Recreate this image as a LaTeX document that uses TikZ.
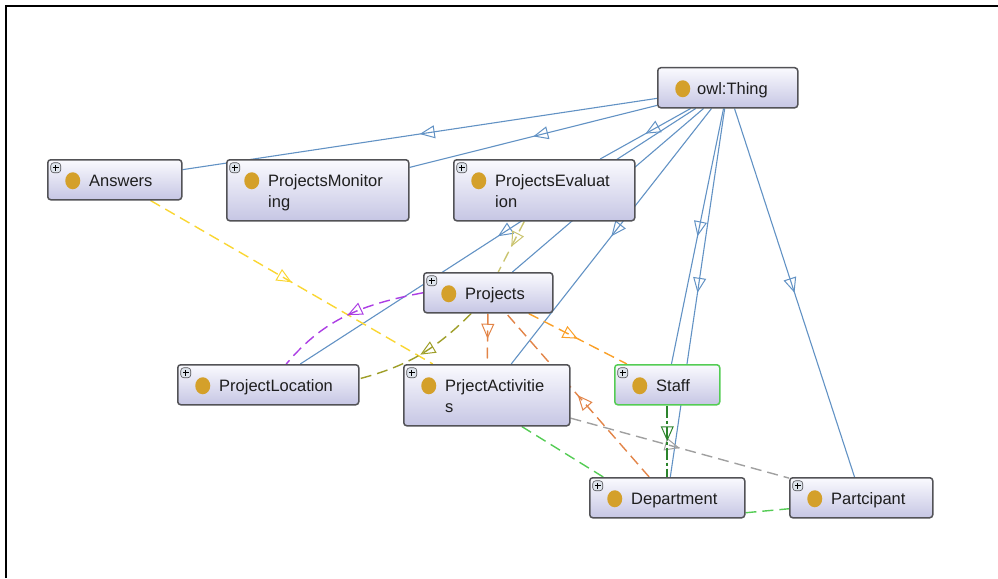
\documentclass[tikz,border=0pt]{standalone}
\usepackage{fontspec}
\setmainfont{Liberation Sans}
\usepackage{tikz}
\usetikzlibrary{arrows.meta, positioning, decorations.markings, backgrounds}
\definecolor{isablue}{RGB}{98,146,196}
\definecolor{relyellow}{RGB}{250,214,50}
\definecolor{relpurple}{RGB}{172,62,228}
\definecolor{relolive}{RGB}{158,158,40}
\definecolor{relkhaki}{RGB}{202,196,112}
\definecolor{relorange}{RGB}{250,160,40}
\definecolor{reldkorange}{RGB}{226,132,72}
\definecolor{relgray}{RGB}{160,160,160}
\definecolor{rellgreen}{RGB}{84,204,84}
\definecolor{reldkgreen}{RGB}{44,132,44}
\definecolor{boxline}{RGB}{82,82,86}
\definecolor{boxtop}{RGB}{250,250,254}
\definecolor{boxbot}{RGB}{198,198,228}
\definecolor{dot}{RGB}{212,160,42}
\definecolor{plusbg}{RGB}{222,228,236}
\definecolor{txt}{RGB}{30,30,30}

\begin{document}
\begin{tikzpicture}[x=1pt, y=-1pt,
    base/.style={rectangle, rounded corners=3pt, draw=boxline, line width=1.5pt, top color=boxtop, bottom color=boxbot, anchor=north west, inner sep=0pt, minimum height=40pt},
    root/.style={base, path picture={
        \fill[dot] ([shift={(25pt,-21pt)}]path picture bounding box.north west) ellipse (7.5pt and 8.5pt);}},
    cls/.style={base, path picture={
        \draw[draw=boxline, fill=plusbg, line width=0.6pt] ([shift={(3pt,-3pt)}]path picture bounding box.north west) rectangle ++(10pt,-10pt);
        \draw[black, line width=0.9pt] ([shift={(5pt,-8pt)}]path picture bounding box.north west) -- ++(6pt,0pt)
            ([shift={(8pt,-5pt)}]path picture bounding box.north west) -- ++(0pt,-6pt);
        \fill[dot] ([shift={(25pt,-21pt)}]path picture bounding box.north west) ellipse (7.5pt and 8.5pt);}},
    tall/.style={minimum height=61pt},
    lbl/.style={anchor=base west, inner sep=0pt, align=left, text=txt, font=\fontsize{16.5}{21.5}\selectfont},
    midarrow/.style={postaction={decorate}, decoration={markings, mark=at position 0.5 with {\arrow{Triangle[open, length=15pt, width=13pt, line width=1pt]}}}},
    isa/.style={draw=isablue, line width=1.1pt, midarrow},
    relplain/.style={draw=#1, line width=1.4pt, dash pattern=on 11pt off 6pt},
    rel/.style={relplain=#1, midarrow}
]
\useasboundingbox (0,0) rectangle (998,578);
\draw[line width=1.5pt] (6,578) -- (6,6) -- (998,6);

% classes
\node[root, minimum width=140pt] (thing) at (657,67) {};
\node[lbl] (thing-t) at ([shift={(40pt,-27pt)}]thing.north west) {owl:Thing};

\node[cls, minimum width=134pt] (answers) at (47,159) {};
\node[lbl] (answers-t) at ([shift={(42pt,-27pt)}]answers.north west) {Answers};

\node[cls, tall, minimum width=182pt] (projmon) at (226,159) {};
\node[lbl] (projmon-t) at ([shift={(42pt,-48.5pt)}]projmon.north west) {ProjectsMonitor\\ing};

\node[cls, tall, minimum width=181pt] (projeval) at (453,159) {};
\node[lbl] (projeval-t) at ([shift={(42pt,-48.5pt)}]projeval.north west) {ProjectsEvaluat\\ion};

\node[cls, minimum width=129pt] (projects) at (423,272) {};
\node[lbl] (projects-t) at ([shift={(42pt,-27pt)}]projects.north west) {Projects};

\node[cls, minimum width=181pt] (projloc) at (177,364) {};
\node[lbl] (projloc-t) at ([shift={(42pt,-27pt)}]projloc.north west) {ProjectLocation};

\node[cls, tall, minimum width=166pt] (projact) at (403,364) {};
\node[lbl] (projact-t) at ([shift={(42pt,-48.5pt)}]projact.north west) {PrjectActivitie\\s};

\node[cls, minimum width=105pt, draw=rellgreen] (staff) at (614,364) {};
\node[lbl] (staff-t) at ([shift={(42pt,-27pt)}]staff.north west) {Staff};

\node[cls, minimum width=155pt] (dept) at (589,477) {};
\node[lbl] (dept-t) at ([shift={(42pt,-27pt)}]dept.north west) {Department};

\node[cls, minimum width=143pt] (partic) at (789,477) {};
\node[lbl] (partic-t) at ([shift={(42pt,-27pt)}]partic.north west) {Partcipant};

% edges
\begin{scope}[on background layer]
  \foreach \c in {answers, projmon, projeval, projects, projloc, projact, staff, dept, partic}
    \draw[isa] (thing) -- (\c);
  \draw[rel=relyellow] (answers) -- (projact);
  \draw[rel=relpurple] (projects.west) to[out=191, in=50] ([xshift=18pt]projloc.north);
  \draw[rel=relolive] ([xshift=-17pt]projects.south) to[out=225, in=15] ([yshift=6pt]projloc.east);
  \draw[rel=relkhaki] ([xshift=-20pt]projeval.south) -- ([xshift=10pt]projects.north);
  \draw[rel=relorange] (projects) -- (staff);
  \draw[rel=reldkorange] (projects) -- (projact);
  \draw[rel=reldkorange] (dept) -- (projects);
  \draw[rel=relgray] (projact) -- (partic);
  \draw[rel=reldkgreen, line width=1.7pt, dash pattern=on 12pt off 3pt on 3pt off 3pt] (staff) -- (dept);
  \draw[relplain=rellgreen] ([xshift=35pt]projact.south) -- ([xshift=-64pt]dept.north);
  \draw[relplain=rellgreen] ([yshift=-15pt]dept.east) -- ([yshift=-11pt]partic.west);
\end{scope}
\end{tikzpicture}
\end{document}
